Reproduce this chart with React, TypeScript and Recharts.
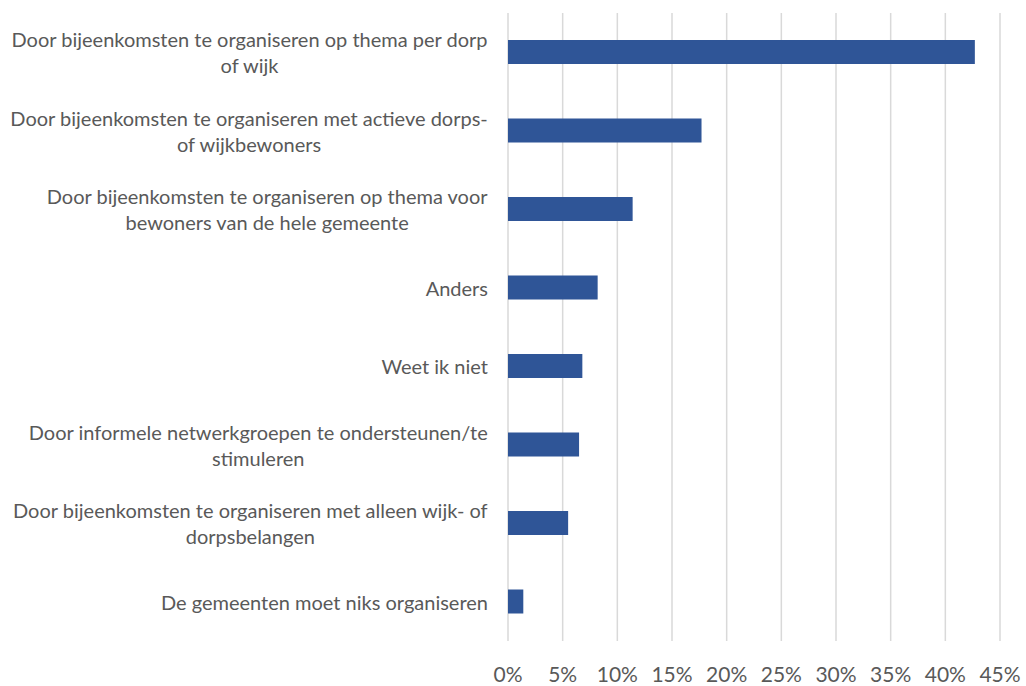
import React from "react";
import { BarChart, Bar, XAxis, YAxis, CartesianGrid } from "recharts";

const categories: string[] = [
  "Door bijeenkomsten te organiseren op thema per dorp\nof wijk",
  "Door bijeenkomsten te organiseren met actieve dorps-\nof wijkbewoners",
  "Door bijeenkomsten te organiseren op thema voor\nbewoners van de hele gemeente",
  "Anders",
  "Weet ik niet",
  "Door informele netwerkgroepen te ondersteunen/te\nstimuleren",
  "Door bijeenkomsten te organiseren met alleen wijk- of\ndorpsbelangen",
  "De gemeenten moet niks organiseren",
];

const values: number[] = [42.7, 17.7, 11.4, 8.2, 6.8, 6.5, 5.5, 1.4];

const xTicks: number[] = [0, 5, 10, 15, 20, 25, 30, 35, 40, 45];

const data = categories.map((c, i) => ({ name: c, value: values[i] }));

const FONT = "Lato";
const CAT_SIZE = 20;
const TICK_SIZE = 21;
const TEXT_COLOR = "#595959";
const BAR_COLOR = "#2F5597";

let ctx: CanvasRenderingContext2D | null = null;
function measure(text: string, size: number): number {
  if (!ctx) {
    const c = document.createElement("canvas");
    ctx = c.getContext("2d");
  }
  if (!ctx) return text.length * size * 0.5;
  ctx.font = `${size}px ${FONT}`;
  return ctx.measureText(text).width;
}

const CategoryTick = (props: any) => {
  const { x, y, payload } = props;
  const lines: string[] = String(payload.value).split("\n");
  const right = x - 12;
  const maxW = Math.max(...lines.map((l) => measure(l, CAT_SIZE)));
  const cx = right - maxW / 2;
  const lh = 26;
  const startY = y - ((lines.length - 1) * lh) / 2;
  return (
    <g>
      {lines.map((l, i) => (
        <text
          key={i}
          x={cx}
          y={startY + i * lh}
          textAnchor="middle"
          dominantBaseline="central"
          fill={TEXT_COLOR}
          fontSize={CAT_SIZE}
          fontFamily={FONT}
        >
          {l}
        </text>
      ))}
    </g>
  );
};

const PercentTick = (props: any) => {
  const { x, y, payload } = props;
  return (
    <text
      x={x}
      y={y + 24}
      textAnchor="middle"
      dominantBaseline="central"
      fill={TEXT_COLOR}
      fontSize={TICK_SIZE}
      fontFamily={FONT}
    >
      {`${payload.value}%`}
    </text>
  );
};

export default function App() {
  return (
    <div style={{ position: "absolute", left: 0, top: 0, width: 1026, height: 686, background: "#fff" }}>
      <BarChart
        width={1026}
        height={686}
        data={data}
        layout="vertical"
        margin={{ top: 13, right: 26, bottom: 0, left: 0 }}
        barCategoryGap={0}
      >
        <CartesianGrid horizontal={false} vertical={true} stroke="#D9D9D9" strokeWidth={1.5} />
        <XAxis
          type="number"
          domain={[0, 45]}
          ticks={xTicks}
          axisLine={false}
          tickLine={false}
          height={45}
          tick={<PercentTick />}
          interval={0}
        />
        <YAxis
          type="category"
          dataKey="name"
          width={508}
          axisLine={false}
          tickLine={false}
          tick={<CategoryTick />}
          interval={0}
        />
        <Bar dataKey="value" fill={BAR_COLOR} barSize={24} isAnimationActive={false} />
      </BarChart>
    </div>
  );
}
